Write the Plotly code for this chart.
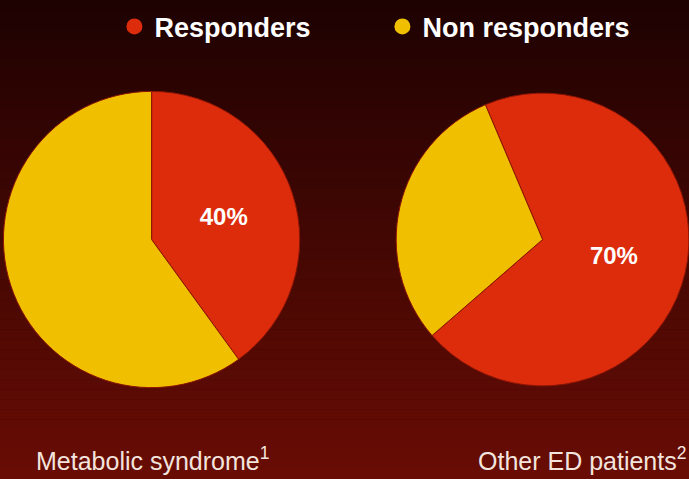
import plotly.graph_objects as go

# ---- data ----
categories = ["Responders", "Non responders"]
groups = ["Metabolic syndrome<sup>1</sup>", "Other ED patients<sup>2</sup>"]
metabolic_values = [40, 60]
other_ed_values = [70, 30]
series_values = [metabolic_values, other_ed_values]

# ---- styles ----
colors = ["#dc2c0c", "#f0c000"]
rotations = [0, -23]
domains = [
    dict(x=[0.005, 0.435], y=[0.185, 0.815]),
    dict(x=[0.575, 1.0], y=[0.185, 0.815]),
]

fig = go.Figure()

for vals, rot, dom in zip(series_values, rotations, domains):
    fig.add_trace(go.Pie(
        labels=categories,
        values=vals,
        sort=False,
        direction="clockwise",
        rotation=rot,
        domain=dom,
        marker=dict(colors=colors, line=dict(color="#8a1404", width=1)),
        texttemplate="%{percent:.0%}",
        textposition=["inside", "none"],
        insidetextorientation="horizontal",
        insidetextfont=dict(color="white", size=24, family="Liberation Sans", weight="bold"),
        showlegend=False,
        hoverinfo="label+percent",
    ))

# legend entries with circular markers
for name, c in zip(categories, colors):
    fig.add_trace(go.Scatter(
        x=[None], y=[None], mode="markers", name=name,
        marker=dict(color=c, size=20, symbol="circle"),
    ))

# gradient background bands
n = 48
top = (30, 2, 2)
bot = (104, 12, 4)
shapes = []
for i in range(n):
    t = i / (n - 1)
    col = tuple(round(top[k] + (bot[k] - top[k]) * t) for k in range(3))
    shapes.append(dict(
        type="rect", xref="paper", yref="paper",
        x0=0, x1=1, y0=1 - (i + 1) / n, y1=1 - i / n,
        fillcolor="rgb(%d,%d,%d)" % col, line=dict(width=0), layer="below",
    ))

label_font = dict(size=25, color="#f3e4de", family="Liberation Sans")
annotations = [
    dict(text=groups[0], x=0.222, y=0.042, xref="paper", yref="paper",
         xanchor="center", yanchor="middle", showarrow=False, font=label_font),
    dict(text=groups[1], x=0.998, y=0.042, xref="paper", yref="paper",
         xanchor="right", yanchor="middle", showarrow=False, font=label_font),
]

fig.update_layout(
    width=689, height=479,
    margin=dict(l=0, r=0, t=0, b=0),
    paper_bgcolor="rgb(60,6,3)",
    plot_bgcolor="rgba(0,0,0,0)",
    xaxis=dict(visible=False),
    yaxis=dict(visible=False),
    shapes=shapes,
    annotations=annotations,
    legend=dict(
        orientation="h", x=0.555, xanchor="center", y=0.995, yanchor="top",
        font=dict(size=27, color="white", family="Liberation Sans", weight="bold"),
        bgcolor="rgba(0,0,0,0)", itemsizing="trace", entrywidth=223,
    ),
)

fig.write_html("out.html")
